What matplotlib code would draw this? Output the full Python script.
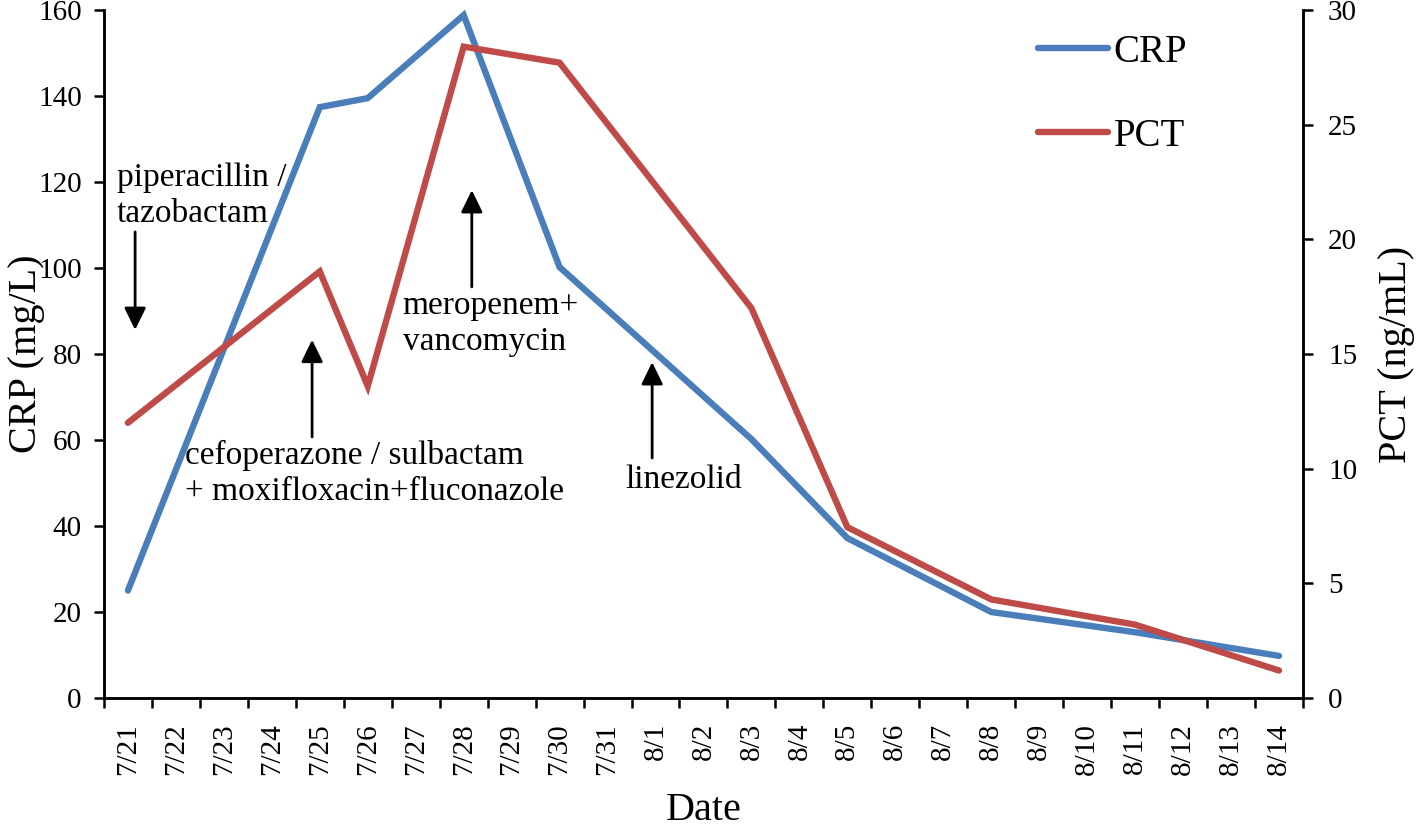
import numpy as np
import matplotlib.pyplot as plt

plt.rcParams['font.family'] = ['Liberation Serif', 'DejaVu Serif']

# Данные
dates = ['7/21', '7/22', '7/23', '7/24', '7/25', '7/26', '7/27', '7/28', '7/29',
         '7/30', '7/31', '8/1', '8/2', '8/3', '8/4', '8/5', '8/6', '8/7', '8/8',
         '8/9', '8/10', '8/11', '8/12', '8/13', '8/14']
crp_dates = ['7/21', '7/25', '7/26', '7/28', '7/30', '8/3', '8/5', '8/8', '8/11', '8/14']
crp = [25, 137.4, 139.5, 158.8, 100.2, 60.2, 37.2, 20, 15.3, 9.8]
pct_dates = ['7/21', '7/25', '7/26', '7/28', '7/30', '8/3', '8/5', '8/8', '8/11', '8/14']
pct = [12.0, 18.6, 13.6, 28.4, 27.7, 17.0, 7.45, 4.3, 3.2, 1.2]

# Аннотации: текст, позиция текста (x, y последней строки на левой оси), стрелка (x, y_от, y_до)
notes = [
    ('piperacillin /\ntazobactam', (-0.23, 110.7), (0.15, 108.4, 85.6)),
    ('cefoperazone / sulbactam\n+ moxifloxacin+fluconazole', (1.18, 46.0), (3.84, 60.7, 83.3)),
    ('meropenem+\nvancomycin', (5.73, 80.9), (7.17, 95.6, 118.1)),
    ('linezolid', (10.38, 48.8), (10.93, 55.8, 78.1)),
]

blue = '#4a7ebb'
red = '#be4b48'

fig = plt.figure(figsize=(14.18, 8.3), dpi=100)
ax = fig.add_axes([0.0733, 0.159, 0.8456, 0.829])
ax2 = ax.twinx()

xi = {d: i for i, d in enumerate(dates)}
l1, = ax.plot([xi[d] for d in crp_dates], crp, color=blue, lw=4.6,
              solid_capstyle='round', solid_joinstyle='miter', label='CRP')
l2, = ax2.plot([xi[d] for d in pct_dates], pct, color=red, lw=4.6,
               solid_capstyle='round', solid_joinstyle='miter', label='PCT')

ax.set_xlim(-0.5, len(dates) - 0.5)
ax.set_ylim(0, 160)
ax2.set_ylim(0, 30)
ax.set_yticks(np.arange(0, 161, 20))
ax2.set_yticks(np.arange(0, 31, 5))

ax.set_xticks(np.arange(-0.5, len(dates), 1))
ax.set_xticklabels([])
ax.set_xticks(np.arange(len(dates)), minor=True)
ax.set_xticklabels(dates, minor=True, rotation=90)
ax.tick_params(axis='x', which='minor', length=0, pad=18, labelsize=21)
ax.tick_params(axis='x', which='major', length=7, width=1.8)
ax.tick_params(axis='y', length=7, width=1.8, labelsize=21, pad=9)
ax2.tick_params(axis='y', length=7, width=1.8, labelsize=21, pad=11)

for a in (ax, ax2):
    a.spines['top'].set_visible(False)
    for s in ('left', 'right', 'bottom'):
        a.spines[s].set_linewidth(1.8)

ax.set_ylabel('CRP (mg/L)', fontsize=29, labelpad=-5)
ax2.set_ylabel('PCT (ng/mL)', fontsize=29, labelpad=15)
ax.set_xlabel('Date', fontsize=29, labelpad=12)

for text, (tx, ty), (axx, y0, y1) in notes:
    ax.text(tx, ty, text, fontsize=24, va='baseline', ha='left', linespacing=1.25)
    ax.annotate('', xy=(axx, y1), xytext=(axx, y0),
                arrowprops=dict(arrowstyle='-|>,head_length=0.45,head_width=0.22',
                                color='black', lw=2, mutation_scale=30,
                                shrinkA=0, shrinkB=0))

ax2.legend([l1, l2], ['CRP', 'PCT'], loc='upper left', bbox_to_anchor=(0.779, 0.965),
           frameon=False, fontsize=28, borderpad=0, borderaxespad=0,
           labelspacing=1.2, handlelength=1.8, handletextpad=0.15)

fig.savefig('out.png', dpi=100)
